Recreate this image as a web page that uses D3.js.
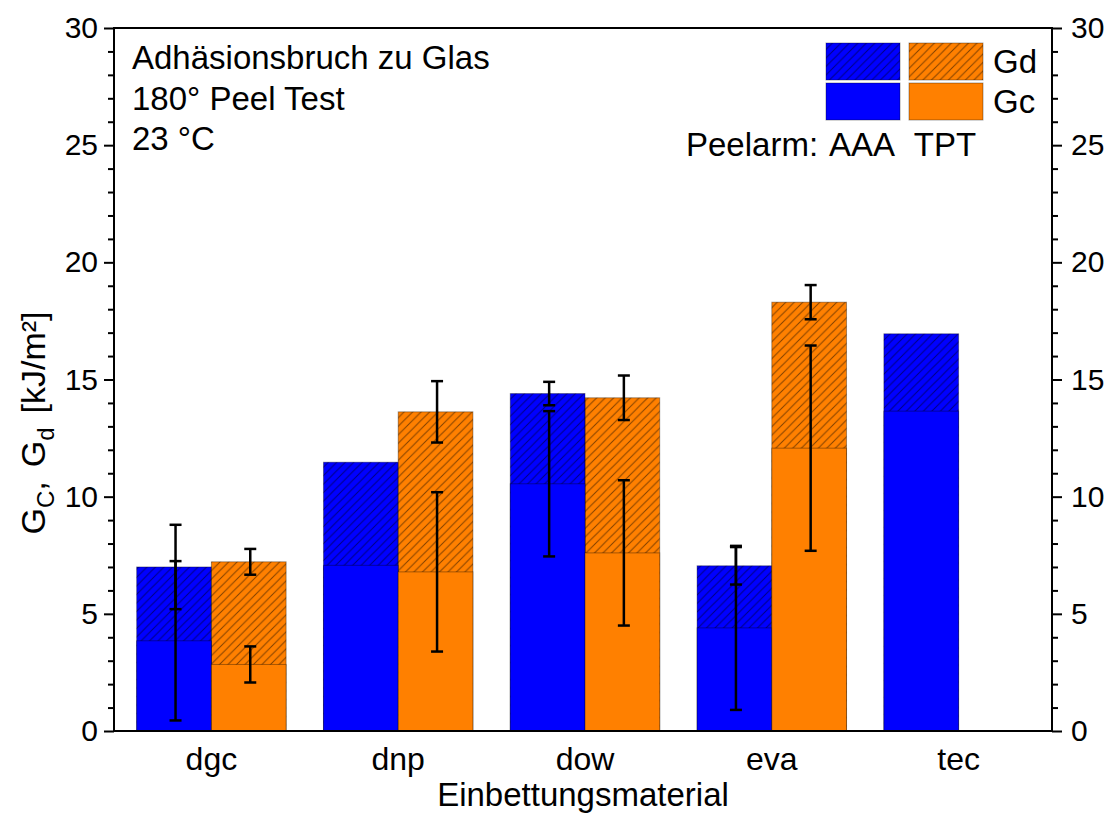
<!DOCTYPE html>
<html>
<head>
<meta charset="utf-8">
<script src="https://cdn.jsdelivr.net/npm/d3@7"></script>
<style>
  html, body { margin: 0; padding: 0; background: #fff; }
  svg text { font-family: "Liberation Sans", Arial, sans-serif; fill: #000; }
</style>
</head>
<body>
<svg id="chart" width="1110" height="814"></svg>
<script>
// Embedding materials on the x axis
const categories = ["dgc", "dnp", "dow", "eva", "tec"];
// Peel arm variants drawn side by side inside each group
const peelArms = ["AAA", "TPT"];

// Energies in kJ/m² (Gd = total bar height, Gc = solid lower part)
const gdAAA = [7.0, 11.47, 14.4, 7.05, 16.95];
const gcAAA = [3.85, 7.07, 10.55, 4.4, 13.65];
const gdTPT = [7.22, 13.62, 14.22, 18.3, null];
const gcTPT = [2.84, 6.79, 7.6, 12.07, null];

// Standard deviations (null = no error bar)
const gdErrAAA = [1.8, null, 0.5, 0.8, null];
const gcErrAAA = [3.4, null, 3.1, 3.5, null];
const gdErrTPT = [0.55, 1.31, 0.95, 0.73, null];
const gcErrTPT = [0.77, 3.4, 3.1, 4.38, null];

const yMajorTicks = [0, 5, 10, 15, 20, 25, 30];
const infoLines = ["Adhäsionsbruch zu Glas", "180° Peel Test", "23 °C"];

const colors = { AAA: "#0000ff", TPT: "#ff8000" };

const svg = d3.select("#chart");
const plotL = 114, plotR = 1052, plotT = 28, plotB = 731;

const x = d3.scaleBand().domain(categories).range([118, plotR]).paddingInner(0.2).paddingOuter(0.1);
const xs = d3.scaleBand().domain(peelArms).range([0, x.bandwidth()]).padding(0);
const y = d3.scaleLinear().domain([0, 30]).range([plotB, plotT]);

// diagonal hatch for the Gd part
const defs = svg.append("defs");
const pat = defs.append("pattern")
  .attr("id", "hatch")
  .attr("patternUnits", "userSpaceOnUse")
  .attr("width", 8.5).attr("height", 8.5);
pat.append("path")
  .attr("d", "M-2,2 L2,-2 M0,8.5 L8.5,0 M6.5,10.5 L10.5,6.5")
  .attr("stroke", "rgba(0,0,0,0.5)").attr("stroke-width", 1);

const rows = [];
categories.forEach((c, i) => {
  rows.push({ cat: c, arm: "AAA", gd: gdAAA[i], gc: gcAAA[i], gdErr: gdErrAAA[i], gcErr: gcErrAAA[i] });
  rows.push({ cat: c, arm: "TPT", gd: gdTPT[i], gc: gcTPT[i], gdErr: gdErrTPT[i], gcErr: gcErrTPT[i] });
});
const bars = rows.filter(d => d.gd != null);

const barG = svg.append("g");
const bx = d => x(d.cat) + xs(d.arm);
const bw = xs.bandwidth();

// Gd bar (full height): colour + hatch
barG.selectAll("rect.gd").data(bars).join("rect")
  .attr("class", "gd")
  .attr("x", bx).attr("width", bw)
  .attr("y", d => y(d.gd)).attr("height", d => y(0) - y(d.gd))
  .attr("fill", d => colors[d.arm]);
barG.selectAll("rect.gdh").data(bars).join("rect")
  .attr("class", "gdh")
  .attr("x", bx).attr("width", bw)
  .attr("y", d => y(d.gd)).attr("height", d => y(0) - y(d.gd))
  .attr("fill", "url(#hatch)")
  .attr("stroke", "rgba(0,0,0,0.35)").attr("stroke-width", 1);
// Gc bar (solid, lower part)
barG.selectAll("rect.gc").data(bars).join("rect")
  .attr("class", "gc")
  .attr("x", bx).attr("width", bw)
  .attr("y", d => y(d.gc)).attr("height", d => y(0) - y(d.gc))
  .attr("fill", d => colors[d.arm])
  .attr("stroke", "rgba(0,0,0,0.35)").attr("stroke-width", 1);

// error bars
const errs = [];
bars.forEach(d => {
  if (d.gcErr != null) errs.push({ d, v: d.gc, e: d.gcErr });
  if (d.gdErr != null) errs.push({ d, v: d.gd, e: d.gdErr });
});
const errG = svg.append("g").attr("stroke", "#000").attr("stroke-width", 2.5);
const ex = o => bx(o.d) + bw / 2 + 1.5;
errG.selectAll("line.v").data(errs).join("line")
  .attr("x1", ex).attr("x2", ex)
  .attr("y1", o => y(o.v + o.e)).attr("y2", o => y(o.v - o.e));
errG.selectAll("line.t").data(errs).join("line")
  .attr("x1", o => ex(o) - 6).attr("x2", o => ex(o) + 6)
  .attr("y1", o => y(o.v + o.e)).attr("y2", o => y(o.v + o.e));
errG.selectAll("line.b").data(errs).join("line")
  .attr("x1", o => ex(o) - 6).attr("x2", o => ex(o) + 6)
  .attr("y1", o => y(o.v - o.e)).attr("y2", o => y(o.v - o.e));

// axes
function styleAxis(g) {
  g.selectAll("path.domain").remove();
  g.selectAll("line").attr("stroke", "#000").attr("stroke-width", 2);
  g.selectAll("text").style("font-size", "30px").attr("fill", "#000");
}
const minorVals = d3.range(0, 31, 1).filter(v => v % 5 !== 0);
svg.append("g").attr("transform", `translate(${plotL},0)`)
  .call(d3.axisLeft(y).tickValues(minorVals).tickSize(6).tickFormat(""))
  .call(styleAxis);
svg.append("g").attr("transform", `translate(${plotL},0)`)
  .call(d3.axisLeft(y).tickValues(yMajorTicks).tickSize(10).tickPadding(6).tickFormat(d3.format("d")))
  .call(styleAxis);
svg.append("g").attr("transform", `translate(${plotR},0)`)
  .call(d3.axisRight(y).tickValues(minorVals).tickSize(6).tickFormat(""))
  .call(styleAxis);
svg.append("g").attr("transform", `translate(${plotR},0)`)
  .call(d3.axisRight(y).tickValues(yMajorTicks).tickSize(10).tickPadding(9).tickFormat(d3.format("d")))
  .call(styleAxis);

const xAxis = svg.append("g").attr("transform", `translate(0,${plotB})`)
  .call(d3.axisBottom(x).tickSize(0).tickPadding(28));
xAxis.selectAll("path.domain").remove();
xAxis.selectAll("text").style("font-size", "32px").attr("dy", "0.35em");

// frame
const frame = svg.append("g").attr("stroke", "#000").attr("stroke-width", 2).attr("fill", "none");
frame.append("path").attr("d", `M${plotL},${plotT} H${plotR} V${plotB} H${plotL} Z`);

// axis titles
svg.append("text")
  .attr("x", (plotL + plotR) / 2).attr("y", 806)
  .attr("text-anchor", "middle").style("font-size", "33px")
  .text("Einbettungsmaterial");

const yl = svg.append("text")
  .attr("transform", "translate(45,423) rotate(-90)")
  .attr("text-anchor", "middle").style("font-size", "34px");
yl.append("tspan").text("G");
yl.append("tspan").attr("dy", 9).style("font-size", "24px").text("C");
yl.append("tspan").attr("dy", -9).text(",");
yl.append("tspan").attr("dx", 14).text("G");
yl.append("tspan").attr("dy", 9).style("font-size", "24px").text("d");
yl.append("tspan").attr("dy", -9).attr("dx", 14).text("[kJ/m²]");

// info text
svg.append("g").selectAll("text").data(infoLines).join("text")
  .attr("x", 132).attr("y", (d, i) => 69 + i * 40.5)
  .style("font-size", "33px")
  .text(d => d);

// legend
const lg = svg.append("g");
const legRows = [{ label: "Gd", hatch: true, y0: 43 }, { label: "Gc", hatch: false, y0: 83 }];
const legX = { AAA: 826, TPT: 909 };
legRows.forEach(r => {
  peelArms.forEach(a => {
    lg.append("rect").attr("x", legX[a]).attr("y", r.y0).attr("width", 74).attr("height", 37)
      .attr("fill", colors[a]);
    lg.append("rect").attr("x", legX[a]).attr("y", r.y0).attr("width", 74).attr("height", 37)
      .attr("fill", r.hatch ? "url(#hatch)" : "none")
      .attr("stroke", "rgba(0,0,0,0.35)").attr("stroke-width", 1);
  });
  lg.append("text").attr("x", 993).attr("y", r.y0 + 30).style("font-size", "33px").text(r.label);
});
lg.append("text").attr("x", 686).attr("y", 156).style("font-size", "33px").text("Peelarm:");
peelArms.forEach(a => {
  lg.append("text").attr("x", legX[a] + 36).attr("y", 156).attr("text-anchor", "middle")
    .style("font-size", "33px").text(a);
});
</script>
</body>
</html>
